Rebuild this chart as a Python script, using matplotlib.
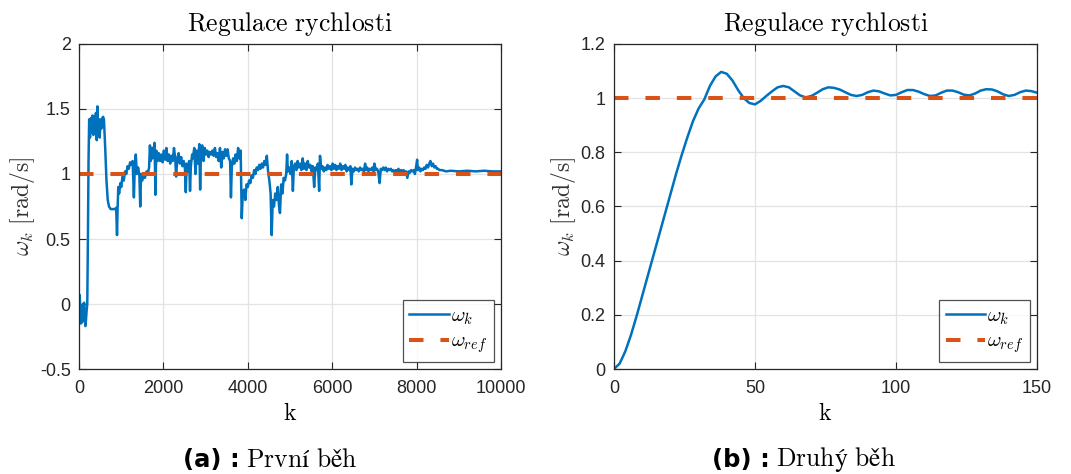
import matplotlib
matplotlib.use("Agg")
import matplotlib.pyplot as plt
from matplotlib.ticker import FuncFormatter

# first run: (k, omega)
k1 = [0, 15, 30, 45, 60, 75, 90, 105, 120, 135, 150, 165, 180, 195, 210, 225, 240,
      260, 280, 300, 320, 340, 360, 380, 400, 420, 435, 450, 470, 490, 510, 530, 550, 570, 590,
      620, 650, 680, 710, 750, 800, 850, 880, 900, 915, 930, 950, 980, 1000, 1030, 1060, 1090,
      1120, 1150, 1180, 1210, 1240, 1270, 1300, 1320, 1345, 1370, 1400, 1430, 1450, 1470, 1500,
      1530, 1560, 1600, 1630, 1660, 1680, 1700, 1720, 1740, 1760, 1790, 1810, 1830, 1860, 1890,
      1920, 1950, 1980, 2010, 2040, 2070, 2100, 2130, 2160, 2190, 2220, 2250, 2280, 2300, 2330,
      2360, 2390, 2420, 2450, 2480, 2510, 2530, 2550, 2580, 2610, 2630, 2650, 2680, 2700, 2730,
      2760, 2790, 2820, 2850, 2870, 2890, 2920, 2950, 2980, 3010, 3040, 3070, 3100, 3130, 3160,
      3190, 3220, 3250, 3280, 3310, 3340, 3370, 3400, 3430, 3460, 3490, 3520, 3550, 3580, 3600,
      3620, 3650, 3680, 3710, 3740, 3770, 3800, 3830, 3856, 3880, 3910, 3940, 3970, 4000, 4030,
      4060, 4090, 4120, 4150, 4180, 4210, 4240, 4270, 4300, 4330, 4360, 4390, 4420, 4450, 4480,
      4510, 4540, 4565, 4590, 4620, 4650, 4680, 4710, 4740, 4762, 4790, 4820, 4850, 4880, 4910,
      4930, 4950, 4980, 5010, 5040, 5068, 5090, 5120, 5150, 5180, 5210, 5240, 5270, 5300, 5330,
      5360, 5390, 5420, 5450, 5480, 5510, 5540, 5572, 5600, 5630, 5660, 5690, 5710, 5740, 5770,
      5800, 5830, 5860, 5890, 5920, 5950, 5980, 6010, 6040, 6070, 6100, 6130, 6160, 6190, 6220,
      6250, 6280, 6310, 6340, 6370, 6400, 6430, 6454, 6480, 6510, 6540, 6570, 6600, 6630, 6660,
      6690, 6720, 6750, 6780, 6800, 6830, 6860, 6890, 6920, 6950, 6980, 7000, 7030, 7060, 7090,
      7123, 7150, 7180, 7210, 7240, 7270, 7300, 7330, 7360, 7390, 7420, 7450, 7480, 7510, 7540,
      7570, 7600, 7630, 7660, 7690, 7720, 7750, 7780, 7810, 7840, 7870, 7900, 7930, 7960, 7990,
      8012, 8030, 8060, 8090, 8120, 8150, 8180, 8210, 8240, 8270, 8300, 8327, 8360, 8390, 8420,
      8450, 8480, 8510, 8540, 8600, 8700, 8800, 9000, 9200, 9400, 9600, 9800, 10000]
w1 = [0.05, 0.07, -0.05, -0.15, -0.08, -0.14, 0.0, -0.05, 0.01, -0.1, -0.17, -0.12, -0.05, 0.0, 0.5, 1.1, 1.42,
      1.28, 1.43, 1.32, 1.45, 1.3, 1.44, 1.36, 1.47, 1.26, 1.52, 1.3, 1.42, 1.28, 1.42, 1.35, 1.43, 1.44, 1.42,
      1.2, 0.95, 0.8, 0.75, 0.73, 0.73, 0.73, 0.74, 0.53, 0.75, 0.9, 0.85, 0.93, 0.9, 0.98, 0.95, 1.02,
      1.0, 1.06, 1.04, 1.09, 1.07, 1.1, 0.82, 1.05, 1.15, 1.0, 1.05, 0.99, 0.75, 1.0, 0.95,
      1.0, 0.97, 1.02, 1.0, 1.05, 1.22, 1.1, 1.2, 1.12, 1.18, 1.24, 0.84, 1.18, 1.1, 1.16,
      1.1, 1.15, 1.09, 1.18, 1.11, 1.2, 1.1, 1.15, 1.08, 1.14, 1.1, 1.2, 1.12, 0.98, 1.12,
      1.16, 1.08, 1.13, 1.06, 1.1, 1.04, 0.86, 1.08, 1.02, 1.1, 0.87, 1.06, 1.15, 1.12, 1.2,
      1.0, 1.18, 1.08, 1.23, 0.88, 1.18, 1.22, 1.1, 1.2, 1.15, 1.18, 1.13, 1.17, 1.15, 1.18,
      1.14, 1.2, 1.13, 1.16, 1.1, 1.2, 1.05, 1.17, 1.12, 1.19, 1.14, 1.19, 1.12, 1.1, 0.82,
      1.05, 1.12, 1.08, 1.15, 1.1, 1.2, 1.12, 1.18, 0.66, 0.85, 0.88, 0.8, 0.92, 0.9, 0.95,
      0.93, 0.99, 0.97, 1.03, 1.0, 1.05, 1.03, 1.07, 1.04, 1.08, 1.05, 1.1, 1.07, 1.14, 1.02,
      0.95, 0.85, 0.53, 0.8, 0.75, 0.85, 0.8, 0.9, 0.75, 0.7, 0.92, 0.85, 0.97, 0.95, 1.0,
      1.15, 1.02, 1.05, 1.0, 1.1, 0.87, 1.05, 1.08, 1.03, 1.1, 1.05, 1.08, 1.03, 1.12, 1.04,
      1.08, 1.03, 1.1, 1.05, 1.07, 1.02, 1.06, 0.9, 1.05, 1.03, 1.08, 0.87, 1.14, 1.04, 1.06,
      1.02, 1.05, 1.03, 1.07, 1.04, 1.06, 1.03, 1.08, 1.04, 1.07, 1.03, 1.06, 1.04, 1.08, 1.03,
      1.06, 1.04, 1.07, 1.02, 1.05, 1.03, 1.06, 0.92, 1.04, 1.02, 1.05, 1.03, 1.04, 1.02, 1.05,
      1.03, 1.04, 1.02, 1.08, 1.03, 1.05, 1.02, 1.04, 1.03, 1.05, 1.02, 1.08, 1.03, 1.04, 1.02,
      0.93, 1.04, 1.03, 1.05, 1.03, 1.05, 1.02, 1.04, 1.03, 1.04, 1.02, 1.03, 1.01, 1.03, 1.02,
      1.04, 1.01, 1.03, 1.02, 1.03, 1.01, 1.02, 0.97, 1.02, 1.01, 1.03, 1.02, 1.03, 1.0, 1.06,
      1.11, 1.03, 1.05, 1.02, 1.04, 1.03, 1.05, 1.04, 1.07, 1.05, 1.08, 1.1, 1.06, 1.08, 1.05,
      1.06, 1.04, 1.04, 1.03, 1.03, 1.02, 1.025, 1.02, 1.025, 1.02, 1.025, 1.02, 1.02]
ref1 = 1.0

# second run
k2 = list(range(0, 151, 2))
w2 = [0.0, 0.02, 0.065, 0.125, 0.195, 0.27, 0.345, 0.42, 0.495, 0.57, 0.645, 0.72, 0.79, 0.855,
      0.915, 0.962, 0.995, 1.045, 1.08, 1.097, 1.09, 1.065, 1.03, 1.0, 0.982, 0.977, 0.99, 1.008,
      1.025, 1.04, 1.045, 1.04, 1.025, 1.01, 1.003, 1.008, 1.02, 1.033, 1.04, 1.038, 1.032, 1.022,
      1.012, 1.008, 1.012, 1.022, 1.028, 1.025, 1.017, 1.01, 1.012, 1.022, 1.03, 1.03, 1.024, 1.015,
      1.008, 1.01, 1.02, 1.028, 1.028, 1.022, 1.013, 1.01, 1.017, 1.028, 1.033, 1.032, 1.025, 1.014,
      1.008, 1.012, 1.022, 1.028, 1.026, 1.02]
ref2 = 1.0

BLUE = "#0072BD"
ORANGE = "#D95319"
DARK = "#262626"

plt.rcParams["font.family"] = "Liberation Sans"
plt.rcParams["mathtext.fontset"] = "cm"
plt.rcParams["axes.unicode_minus"] = False

fig = plt.figure(figsize=(10.71, 4.74), dpi=100)
ax1 = fig.add_axes([0.0738, 0.2215, 0.394, 0.6857])
ax2 = fig.add_axes([0.5733, 0.2215, 0.395, 0.6857])


def style_axes(ax, xlim, ylim, xticks, yticks):
    ax.set_xlim(*xlim)
    ax.set_ylim(*ylim)
    ax.set_xticks(xticks)
    ax.set_yticks(yticks)
    fmt = FuncFormatter(lambda v, p: "%g" % v)
    ax.xaxis.set_major_formatter(fmt)
    ax.yaxis.set_major_formatter(fmt)
    ax.grid(True, color="#e3e3e3", linewidth=0.9)
    ax.set_axisbelow(True)
    ax.tick_params(direction="in", top=True, right=True, length=5, width=0.8,
                   labelsize=13, colors=DARK)
    ax.tick_params(axis="x", pad=8)
    ax.tick_params(axis="y", pad=6)
    for sp in ax.spines.values():
        sp.set_color(DARK)
        sp.set_linewidth(0.9)
    ax.set_title(r"$\mathrm{Regulace\ rychlosti}$", fontsize=18.5, pad=9)
    ax.set_xlabel(r"$\mathrm{k}$", fontsize=17, labelpad=4)
    ax.set_ylabel(r"$\omega_k\ \mathrm{[rad/s]}$", fontsize=17, labelpad=2, color="#333333")
    leg = ax.legend(loc="lower right", fontsize=15, handlelength=1.9, frameon=True,
                    fancybox=False, borderaxespad=0.35, labelspacing=0.25, borderpad=0.3,
                    handletextpad=0.1)
    leg.get_frame().set_edgecolor(DARK)
    leg.get_frame().set_linewidth(0.9)


ax1.plot(k1, w1, color=BLUE, linewidth=1.8, label=r"$\omega_k$")
ax1.plot([k1[0], k1[-1]], [ref1, ref1], color=ORANGE, linewidth=2.9,
         dashes=(3.6, 4.2), label=r"$\omega_{ref}$")
style_axes(ax1, (0, 10000), (-0.5, 2), range(0, 10001, 2000), [-0.5, 0, 0.5, 1, 1.5, 2])

ax2.plot(k2, w2, color=BLUE, linewidth=1.8, label=r"$\omega_k$")
ax2.plot([k2[0], k2[-1]], [ref2, ref2], color=ORANGE, linewidth=2.9,
         dashes=(3.6, 4.2), label=r"$\omega_{ref}$")
style_axes(ax2, (0, 150), (0, 1.2), [0, 50, 100, 150], [0, 0.2, 0.4, 0.6, 0.8, 1, 1.2])

# captions under the subfigures
cap_y = 1 - 460 / 474
fig.text(240 / 1071, cap_y, "(a) :", fontsize=17.5, fontweight="bold",
         family="DejaVu Sans", ha="right", va="center")
fig.text(246 / 1071, cap_y, r"$\mathrm{První\ běh}$", fontsize=18.5, ha="left", va="center")
fig.text(770 / 1071, cap_y, "(b) :", fontsize=17.5, fontweight="bold",
         family="DejaVu Sans", ha="right", va="center")
fig.text(776 / 1071, cap_y, r"$\mathrm{Druhý\ běh}$", fontsize=18.5, ha="left", va="center")

fig.savefig("out.png", dpi=100)
